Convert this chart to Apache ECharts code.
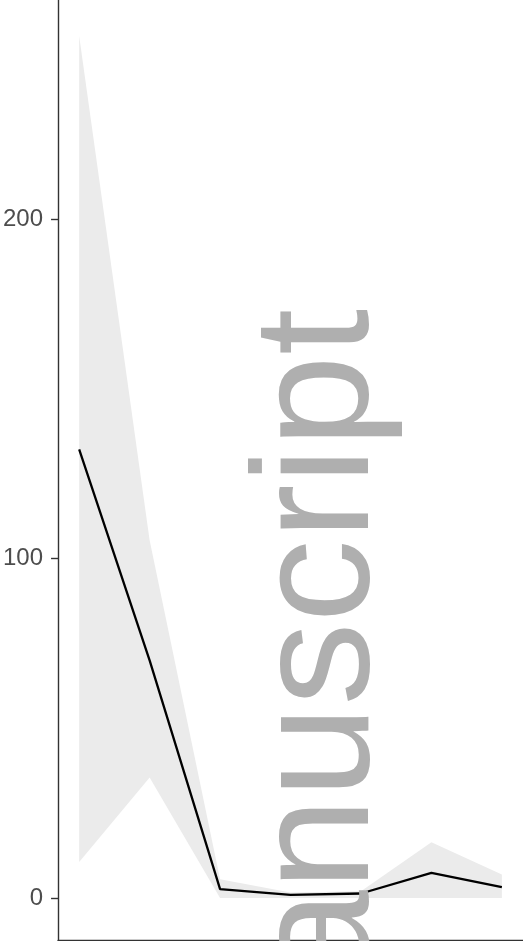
<!DOCTYPE html>
<html>
<head>
<meta charset="utf-8">
<style>
  html, body { margin: 0; padding: 0; background: #ffffff; }
  #chart { width: 523px; height: 941px; }
</style>
<script src="https://cdn.jsdelivr.net/npm/echarts@6/dist/echarts.min.js"></script>
</head>
<body>
<div id="chart"></div>
<script>
// Time steps along the x axis
const steps = [1, 2, 3, 4, 5, 6, 7];
// Central estimate (black line)
const meanValues = [132.2, 70.0, 2.6, 0.9, 1.3, 7.4, 3.2];
// Uncertainty band bounds (grey ribbon)
const lowerValues = [10.6, 35.5, 0, 0, 0, 0, 0];
const upperValues = [254, 105.4, 5.5, 1.6, 2.0, 16.4, 6.9];
// Labelled y ticks
const yTicks = [0, 100, 200];

const chart = echarts.init(document.getElementById('chart'), null, { renderer: 'canvas' });

const meanData = steps.map((x, i) => [x, meanValues[i]]);

const axisColor = '#333333';

// Ribbon drawn as one polygon: upper bound left-to-right, then lower bound back
function renderRibbon(params, api) {
  const pts = [];
  for (let i = 0; i < steps.length; i++) {
    pts.push(api.coord([steps[i], upperValues[i]]));
  }
  for (let i = steps.length - 1; i >= 0; i--) {
    pts.push(api.coord([steps[i], lowerValues[i]]));
  }
  return {
    type: 'polygon',
    shape: { points: pts },
    style: { fill: '#EBEBEB', stroke: null }
  };
}

chart.setOption({
  animation: false,
  backgroundColor: '#ffffff',
  grid: { left: 58, right: 0, top: 0, bottom: 1, containLabel: false },
  xAxis: {
    type: 'value',
    min: 0.7,
    max: 7.3,
    axisLine: { show: true, onZero: false, lineStyle: { color: axisColor, width: 1.4 } },
    axisTick: { show: false },
    axisLabel: { show: false },
    splitLine: { show: false }
  },
  yAxis: {
    type: 'value',
    min: -12.4,
    max: 264.6,
    axisLine: { show: true, onZero: false, lineStyle: { color: axisColor, width: 1.4 } },
    axisTick: {
      show: true,
      length: 7,
      customValues: yTicks,
      lineStyle: { color: axisColor, width: 1.4 }
    },
    axisLabel: {
      show: true,
      customValues: yTicks,
      margin: 15,
      color: '#4D4D4D',
      fontSize: 24,
      fontFamily: '"Liberation Sans", Arial, sans-serif'
    },
    splitLine: { show: false }
  },
  series: [
    {
      name: 'ribbon',
      type: 'custom',
      renderItem: renderRibbon,
      data: [0],
      silent: true,
      clip: true,
      z: 1
    },
    {
      name: 'mean',
      type: 'line',
      data: meanData,
      symbol: 'none',
      lineStyle: { color: '#000000', width: 2.3 },
      z: 3
    }
  ],
  graphic: [
    {
      type: 'text',
      x: 322,
      y: 309,
      rotation: Math.PI / 2,
      z: 100,
      silent: true,
      style: {
        text: 'manuscript',
        fill: '#AFAFAF',
        font: '166px "Liberation Sans", Arial, sans-serif',
        align: 'right',
        verticalAlign: 'middle'
      }
    }
  ]
});
</script>
</body>
</html>
